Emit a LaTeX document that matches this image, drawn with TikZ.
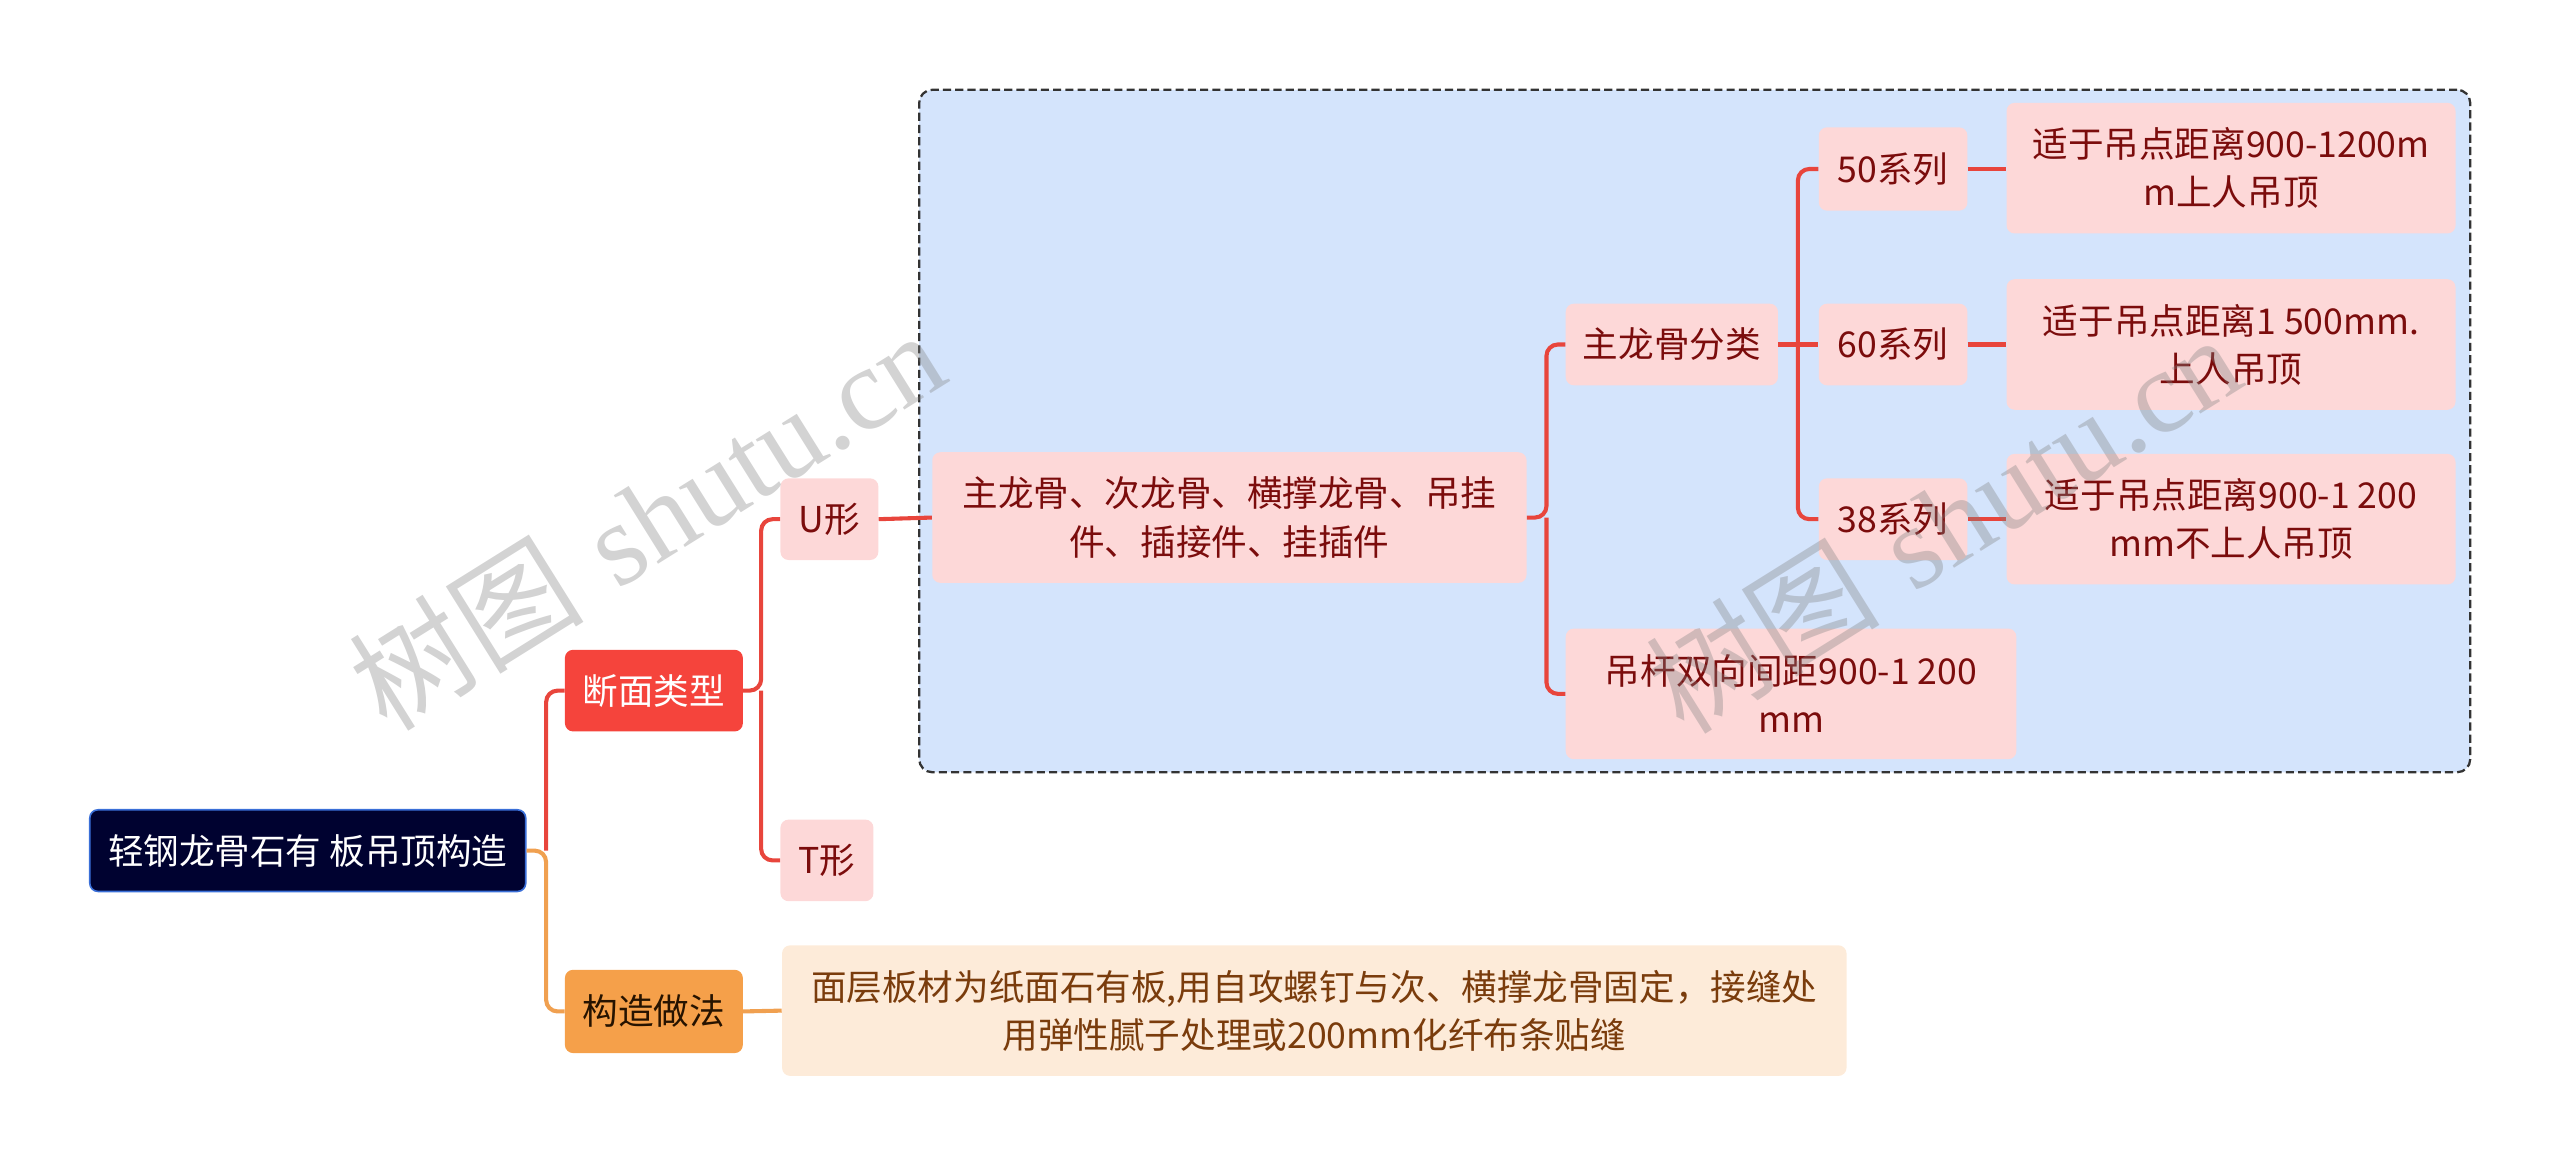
\documentclass[tikz,border=0pt]{standalone}
\usepackage{fontspec}
\newfontfamily\cjk{Noto Sans CJK SC}
\newfontfamily\wmserif{Liberation Serif}
\definecolor{rootfill}{HTML}{000230}
\definecolor{rootborder}{HTML}{3A6FD8}
\definecolor{redfill}{HTML}{F5443C}
\definecolor{redline}{HTML}{E8453C}
\definecolor{pinkfill}{HTML}{FDD8D8}
\definecolor{redtext}{HTML}{7B0C0C}
\definecolor{orangefill}{HTML}{F5A04A}
\definecolor{orangeline}{HTML}{F0A050}
\definecolor{peachfill}{HTML}{FDEBD9}
\definecolor{browntext}{HTML}{7A3C0C}
\definecolor{bluefill}{HTML}{D4E4FC}
\tikzset{
  box/.style={rounded corners=5pt, inner sep=0pt, align=center, font=\cjk\fontsize{21.8}{29.5}\selectfont},
  pinkbox/.style={box, fill=pinkfill, text=redtext},
  rline/.style={draw=redline, line width=2.5pt, rounded corners=7pt},
  oline/.style={draw=orangeline, line width=2.5pt, rounded corners=7pt},
  wm/.style={text=gray, opacity=0.35, rotate=32, font=\fontsize{72}{72}\selectfont, inner sep=0pt}
}
\begin{document}
\begin{tikzpicture}[x=1pt,y=-1pt]
\useasboundingbox (0,0) rectangle (1568,714);
% dashed group
\node[draw=black!80, dash pattern=on 5pt off 2.5pt, line width=1.4pt, fill=bluefill, rounded corners=8pt,
  minimum width=950pt, minimum height=418pt, inner sep=0pt] (grp) at (1038,264) {};
% nodes
\node[box, fill=rootfill, draw=rootborder, line width=1pt, text=white, minimum width=267pt, minimum height=50pt] (root) at (188.5,521) {轻钢龙骨石有 板吊顶构造};
\node[box, fill=redfill, text=white, minimum width=109pt, minimum height=50pt] (dm) at (400.5,423) {断面类型};
\node[box, fill=orangefill, text=black!85!orange, minimum width=109pt, minimum height=51pt] (gz) at (400.5,619.5) {构造做法};
\node[pinkbox, minimum width=60pt, minimum height=50pt] (u) at (508,318) {U形};
\node[pinkbox, minimum width=57pt, minimum height=50pt] (t) at (506.5,527) {T形};
\node[pinkbox, minimum width=364pt, minimum height=80pt] (zl) at (753,317) {主龙骨、次龙骨、横撑龙骨、吊挂\\件、插接件、挂插件};
\node[pinkbox, minimum width=130pt, minimum height=50pt] (fl) at (1024,211) {主龙骨分类};
\node[pinkbox, minimum width=276pt, minimum height=80pt] (dg) at (1097,425) {吊杆双向间距900-1 200\\mm};
\node[pinkbox, minimum width=91pt, minimum height=51pt] (s50) at (1159.5,103.5) {50系列};
\node[pinkbox, minimum width=91pt, minimum height=50pt] (s60) at (1159.5,211) {60系列};
\node[pinkbox, minimum width=91pt, minimum height=50pt] (s38) at (1159.5,318) {38系列};
\node[pinkbox, minimum width=275pt, minimum height=80pt] (d50) at (1366.5,103) {适于吊点距离900-1200m\\m上人吊顶};
\node[pinkbox, minimum width=275pt, minimum height=80pt] (d60) at (1366.5,211) {适于吊点距离1 500mm.\\上人吊顶};
\node[pinkbox, minimum width=275pt, minimum height=80pt] (d38) at (1366.5,318) {适于吊点距离900-1 200\\mm不上人吊顶};
\node[box, fill=peachfill, text=browntext, minimum width=652pt, minimum height=80pt] (mc) at (805,619) {面层板材为纸面石有板,用自攻螺钉与次、横撑龙骨固定，接缝处\\用弹性腻子处理或200mm化纤布条贴缝};
% connectors
\draw[oline] (root.east) -- ++(12,0) |- (gz.west);
\draw[rline] ([xshift=12pt]root.east) |- (dm.west);
\draw[rline] (dm.east) -- ++(11,0) |- (u.west);
\draw[rline] ([xshift=11pt]dm.east) |- (t.west);
\draw[rline] (u.east) -- (zl.west);
\draw[rline] (zl.east) -- ++(12,0) |- (fl.west);
\draw[rline] ([xshift=12pt]zl.east) |- (dg.west);
\draw[rline] (fl.east) -- (s60.west);
\draw[rline] ([xshift=12pt]fl.east) |- (s50.west);
\draw[rline] ([xshift=12pt]fl.east) |- (s38.west);
\draw[rline] (s50.east) -- (s50.east -| d50.west);
\draw[rline] (s60.east) -- (d60.west);
\draw[rline] (s38.east) -- (d38.west);
\draw[oline] (gz.east) -- (mc.west);
% watermarks
\node[wm] (wm1) at (396,318) {{\cjk 树图} {\wmserif shutu.cn}};
\node[wm] (wm2) at (1190,320) {{\cjk 树图} {\wmserif shutu.cn}};
\end{tikzpicture}
\end{document}
